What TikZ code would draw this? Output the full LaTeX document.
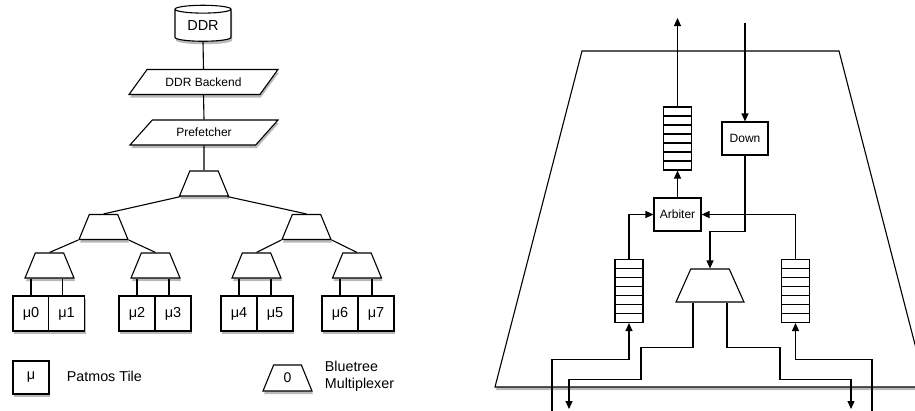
\documentclass[tikz,border=0pt]{standalone}
\usepackage{fontspec}
\setmainfont{Liberation Sans}
\usetikzlibrary{shapes.geometric,arrows.meta,shadows,calc,positioning}

\begin{document}
\begin{tikzpicture}[
        x=1pt, y=-1pt,
        line width=1.1pt,
        font=\fontsize{12}{14}\selectfont,
        >={Triangle[length=8pt,width=7pt]},
        shadowed/.style={drop shadow={shadow xshift=1pt, shadow yshift=-3pt, opacity=0.55}},
        tile/.style={draw, fill=white, shadowed, minimum width=36pt, minimum height=35pt, inner sep=0pt, font=\fontsize{14.5}{16}\selectfont},
        mux/.style={draw, fill=white, shadowed, trapezium, trapezium left angle=70, trapezium right angle=70,
            trapezium stretches=true, minimum width=49pt, minimum height=25pt, inner sep=2pt},
        para/.style={draw, fill=white, shadowed, trapezium, trapezium left angle=45, trapezium right angle=135,
            trapezium stretches=true, minimum width=149pt, minimum height=25pt, inner sep=2pt},
        unit/.style={draw, fill=white, minimum height=33pt, inner sep=0pt},
        fifo/.style={draw, fill=white, minimum width=28pt, minimum height=63pt, inner sep=0pt,
            path picture={\foreach \k in {1,...,6}
                \draw ($(path picture bounding box.north west)!\k/7!(path picture bounding box.south west)$)
                   -- ($(path picture bounding box.north east)!\k/7!(path picture bounding box.south east)$);}},
        lab/.style={align=left, anchor=west, font=\fontsize{14.3}{17}\selectfont}
    ]
        \useasboundingbox (0,0) rectangle (915,410);
        \clip (0,0) rectangle (915,410);

        % Memory side
        \node[draw, fill=white, shadowed, cylinder, shape border rotate=90, aspect=0.25,
              minimum width=56pt, minimum height=36pt, inner sep=0pt,
              font=\fontsize{14.5}{16}\selectfont] (ddr) at (203,25.5) {DDR};
        \node[para] (backend) at (203.5,82) {DDR Backend};
        \node[para] (pref) at (204,132.5) {Prefetcher};

        % Bluetree
        \node[mux] (m0) at (204,183.5) {};
        \node[mux] (m1) at (103.5,227) {};
        \node[mux] (m2) at (306.5,227) {};
        \foreach \n/\x in {3/49.5,4/155.5,5/256.5,6/357}
            \node[mux] (m\n) at (\x,265.5) {};

        % Tiles
        \foreach \i/\x in {0/31,1/66.5,2/137,3/173,4/239,5/275,6/340,7/376}
            \node[tile] (t\i) at (\x,313.5) {μ\i};

        \draw (ddr.south) -- (backend.north);
        \draw (backend.south) -- (pref.north);
        \draw (pref.south) -- (m0.north);
        \draw ([xshift=2pt]m0.bottom left corner) -- (m1.north);
        \draw ([xshift=-2pt]m0.bottom right corner) -- (m2.north);
        \foreach \a/\b/\c in {m1/m3/m4, m2/m5/m6} {
            \draw (\a.bottom left corner) -- (\b.north);
            \draw (\a.bottom right corner) -- (\c.north);
        }
        \foreach \m/\a/\b in {m3/t0/t1, m4/t2/t3, m5/t4/t5, m6/t6/t7} {
            \draw (\a.north) -- (\a.north |- \m.south);
            \draw ([xshift=-4pt]\b.north) -- ([xshift=-4pt]\b.north |- \m.south);
        }

        % Legend
        \node[tile, minimum height=33pt] (keytile) at (31,377.5) {μ};
        \node[lab] (keytiletext) at (63,376) {Patmos Tile};
        \node[mux, trapezium left angle=72, trapezium right angle=72, minimum height=26pt,
              font=\fontsize{14}{16}\selectfont] (keymux) at (287.5,378) {0};
        \node[lab] (keymuxtext) at (321,376) {Bluetree\\Multiplexer};

        % Multiplexer detail
        \draw[fill=white, shadowed] (582,51) -- (839,51) -- (926,387) -- (495,387) -- cycle;

        \node[fifo] (fup) at (677.5,138.5) {};
        \node[unit, minimum width=46pt] (down) at (745,138.5) {Down};
        \node[unit, minimum width=47pt] (arb) at (677.5,214.5) {Arbiter};
        \node[draw, fill=white, trapezium, trapezium left angle=69, trapezium right angle=69,
              trapezium stretches=true, minimum width=68pt, minimum height=33pt] (imux) at (710,285.5) {};
        \node[fifo] (fleft) at (629,291) {};
        \node[fifo] (fright) at (795.5,291) {};

        \coordinate (upout) at (677.5,18);
        \coordinate (downin) at (745,23);
        \coordinate (outleft) at (569,409);
        \coordinate (outright) at (851,409);
        \coordinate (inleft) at (552,415);
        \coordinate (inright) at (872,415);

        \draw[->] (fup.north) -- (upout);
        \draw[->] (downin) -- (down.north);
        \draw[->] (arb.north) -- (fup.south);
        \draw[->] (down.south) -- (down.south |- arb.south) -| (imux.north);
        \draw[->] (fleft.north) |- (arb.west);
        \draw[->] (fright.north) |- (arb.east);

        \draw[->] ([xshift=-17pt]imux.south) -- ++(0,45) -- ++(-52,0) -- ++(0,32) -| (outleft);
        \draw[->] ([xshift=17pt]imux.south) -- ++(0,45) -- ++(53,0) -- ++(0,32) -| (outright);
        \draw[->] (inleft) |- ($(fleft.south)+(0,36)$) -- (fleft.south);
        \draw[->] (inright) |- ($(fright.south)+(0,36)$) -- (fright.south);
\end{tikzpicture}
\end{document}
